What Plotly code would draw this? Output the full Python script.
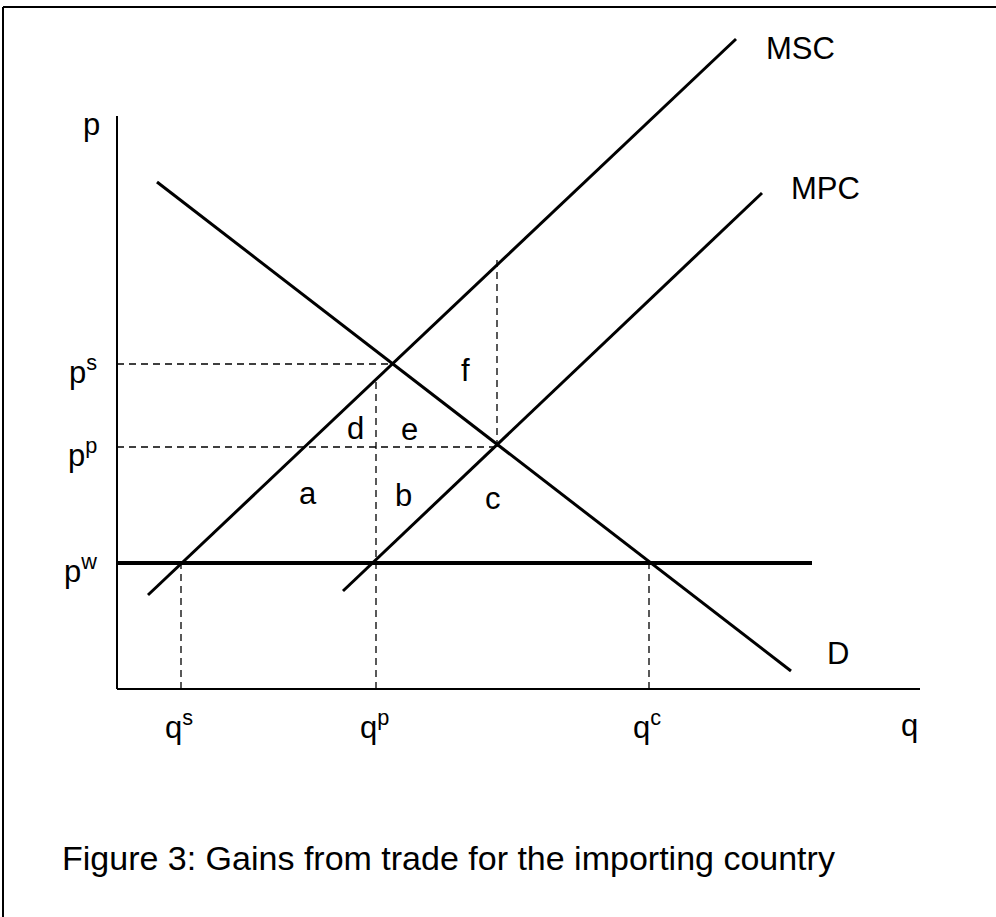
import plotly.graph_objects as go

# ---- data (economic diagram, data units) ----
msc_q = [3.1, 61.9]
msc_p = [9.4, 65.0]
mpc_q = [22.6, 64.5]
mpc_p = [9.8, 49.6]
d_q = [4.0, 67.4]
d_p = [50.7, 1.8]
pw_q = [0.1, 69.5]

q_s, q_p, q_c = 6.4, 25.9, 53.2
p_w, p_p, p_s = 12.6, 24.2, 32.5
q_int_s = 27.6   # MSC / D intersection
q_int_p = 38.0   # MPC / D intersection
p_msc_at_qp = 30.9
p_top_f = 42.9

x_axis_end = 80.3
y_axis_end = 57.3

area_labels = ["a", "b", "c", "d", "e", "f"]
area_q = [19.1, 28.6, 37.6, 23.8, 29.2, 34.8]
area_p = [19.6, 19.4, 19.1, 26.1, 26.0, 31.9]

FONT = "Liberation Sans, Arial, sans-serif"
BLACK = "#000000"

fig = go.Figure()

def line(xs, ys, width=3, dash="solid"):
    fig.add_trace(go.Scatter(x=xs, y=ys, mode="lines",
                             line=dict(color=BLACK, width=width, dash=dash),
                             hoverinfo="skip", showlegend=False))

DASH = "7px,5px"
# axes
line([0, 0], [0, y_axis_end], width=2)
line([0, x_axis_end], [0, 0], width=2)
# dashed guides
line([0, q_int_s], [p_s, p_s], width=1.3, dash=DASH)
line([0, q_int_p], [p_p, p_p], width=1.3, dash=DASH)
line([q_s, q_s], [0, p_w], width=1.3, dash=DASH)
line([q_p, q_p], [0, p_msc_at_qp], width=1.3, dash=DASH)
line([q_c, q_c], [0, p_w], width=1.3, dash=DASH)
line([q_int_p, q_int_p], [p_p, p_top_f], width=1.3, dash=DASH)
# curves
line(msc_q, msc_p, width=3)
line(mpc_q, mpc_p, width=3)
line(d_q, d_p, width=3)
line(pw_q, [p_w, p_w], width=4)

ann = []
def txt(x, y, s, size=31, xanchor="center", yanchor="middle", xref="x", yref="y"):
    ann.append(dict(x=x, y=y, text=s, showarrow=False, xref=xref, yref=yref,
                    xanchor=xanchor, yanchor=yanchor,
                    font=dict(family=FONT, size=size, color=BLACK)))

for lab, qx, py in zip(area_labels, area_q, area_p):
    txt(qx, py, lab)

txt(-2.6, 56.5, "p")
txt(-1.8, p_s - 0.6, "p<sup>s</sup>", xanchor="right")
txt(-1.8, p_p - 0.6, "p<sup>p</sup>", xanchor="right")
txt(-1.8, p_w - 0.6, "p<sup>w</sup>", xanchor="right")
txt(q_s - 0.2, -3.6, "q<sup>s</sup>")
txt(q_p - 0.2, -3.6, "q<sup>p</sup>")
txt(q_c - 0.2, -3.6, "q<sup>c</sup>")
txt(79.2, -3.6, "q")
txt(68.3, 64.1, "MSC")
txt(70.8, 50.1, "MPC")
txt(72.1, 3.6, "D")
txt(-5.7, -16.9, "Figure 3: Gains from trade for the importing country", size=34, xanchor="left")

fig.update_layout(annotations=ann)

# frame (cut at right and bottom)
fig.add_shape(type="line", xref="paper", yref="paper", x0=3/996, x1=1, y0=1-7/917, y1=1-7/917,
              line=dict(color=BLACK, width=2))
fig.add_shape(type="line", xref="paper", yref="paper", x0=3/996, x1=3/996, y0=0, y1=1-7/917,
              line=dict(color=BLACK, width=2))

fig.update_xaxes(range=[-11.7, 87.9], visible=False, fixedrange=True)
fig.update_yaxes(range=[-22.8, 68.9], visible=False, fixedrange=True)
fig.update_layout(width=996, height=917, margin=dict(l=0, r=0, t=0, b=0),
                  plot_bgcolor="white", paper_bgcolor="white",
                  font=dict(family=FONT, color=BLACK))

fig.write_html("out.html", config={"displayModeBar": False},
               post_script="document.body.style.margin='0';document.body.style.overflow='hidden';")
